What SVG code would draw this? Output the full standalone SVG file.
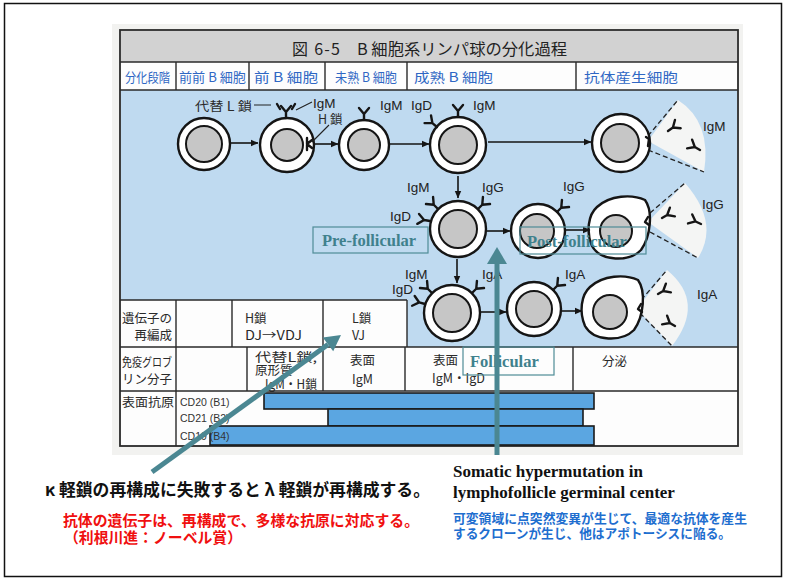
<svg xmlns="http://www.w3.org/2000/svg" width="787" height="580" viewBox="0 0 787 580">
<style>
  .hd{font-family:"Noto Sans CJK JP","Noto Sans",sans-serif;font-size:13px;fill:#2f67c4}
  .ttl{font-family:"Noto Sans CJK JP","Noto Sans",sans-serif;font-size:16px;fill:#222}
  .tb{font-family:"Noto Sans CJK JP","Noto Sans",sans-serif;font-size:12.5px;fill:#2a2a2a}
  .cd{font-family:"Liberation Sans",Arial,sans-serif;font-size:10.5px;fill:#333}
  .ig{font-family:"Liberation Sans",Arial,sans-serif;font-size:13.5px;fill:#222}
  .rule{stroke:#2a2a2a;stroke-width:1.4;fill:none}
  .mem{fill:#fff;stroke:#151515;stroke-width:2.4}
  .nuc{fill:#c6c6c6;stroke:#151515;stroke-width:2}
  .ab{fill:none;stroke:#151515;stroke-width:2.4;stroke-linecap:round;stroke-linejoin:round}
  .lead{fill:none;stroke:#222;stroke-width:1.1}
  .flow{stroke:#151515;stroke-width:1.6;fill:none}
  .fan{fill:#f4f5f4}
  .dash{stroke:#222;stroke-width:1.3;stroke-dasharray:5 3;fill:none}
  .bar{fill:#5ba6e1;stroke:#1a1a1a;stroke-width:1.6}
  .zone{fill:none;stroke:#4f8c97;stroke-width:1.2}
  .zt{font-family:"Liberation Serif","Times New Roman",serif;font-weight:bold;font-size:16.5px;fill:#3f818d}
  .teal{stroke:#4b8792;stroke-width:5;fill:none}
  .note{font-family:"Noto Sans CJK JP","Noto Sans",sans-serif;font-weight:bold}
  .en{font-family:"Liberation Serif","Times New Roman",serif;font-weight:bold;font-size:17px;fill:#111}
</style>
<defs>
  <marker id="ah" markerWidth="8" markerHeight="8" refX="7" refY="4" orient="auto" markerUnits="userSpaceOnUse">
    <path d="M0,0.8 L7.5,4 L0,7.2 Z" fill="#151515"/>
  </marker>
  <!-- antibody: base of the stem at the origin, arms pointing up -->
  <path id="ab" class="ab" d="M0,0 V-6 L-5,-12 M0,-6 L5,-12"/>
  <!-- plasma cell outline: egg shape, narrow end to the upper right -->
  <path id="plasma" class="mem" d="M597,207 C610,195 632,194 645,200 C653,211 651,236 641,250 C629,262 601,262 592,246 C586,232 588,215 597,207 Z"/>
</defs>

<!-- slide border -->
<rect x="4.5" y="3.5" width="777" height="573" fill="#fff" stroke="#111" stroke-width="1.5"/>

<!-- figure frame, title, header row and table -->
<g id="figure-frame">
  <rect x="112" y="24" width="631" height="431" fill="#f2f2f0"/>
  <rect x="120" y="30" width="618" height="416" fill="#fdfdfd" stroke="#2a2a2a" stroke-width="1.8"/>
  <rect x="121" y="31" width="616" height="31" fill="#d2d2d2"/>
  <path d="M121,90 H737 V347 H407 V300 H121 Z" fill="#bfdaf0"/>
  <path class="rule" d="M120,62 H738 M120,90 H738 M176,62 V90 M249,62 V90 M325,62 V90 M407,62 V90 M576,62 V90"/>
  <path class="rule" d="M120,300 H407 M120,347 H738 M120,391 H738 M176,300 V347 M232,300 V347 M323,300 V347 M407,300 V347 M176,347 V391 M247,347 V391 M323,347 V391 M405,347 V391 M573,347 V391 M176,391 V446"/>
  <rect class="bar" x="264" y="393" width="330" height="16"/>
  <rect class="bar" x="328" y="409" width="255" height="17"/>
  <rect class="bar" x="210" y="426" width="384" height="19"/>

  <text class="ttl" x="292" y="55" textLength="48" lengthAdjust="spacing">図 6-5</text>
  <text class="ttl" x="357" y="55" textLength="210" lengthAdjust="spacingAndGlyphs">B 細胞系リンパ球の分化過程</text>

  <text class="hd" x="125" y="82" textLength="45" lengthAdjust="spacingAndGlyphs">分化段階</text>
  <text class="hd" x="179" y="82" textLength="67" lengthAdjust="spacingAndGlyphs">前前 B 細胞</text>
  <text class="hd" x="254" y="82" textLength="64" lengthAdjust="spacingAndGlyphs">前 B 細胞</text>
  <text class="hd" x="335" y="82" textLength="62" lengthAdjust="spacingAndGlyphs">未熟 B 細胞</text>
  <text class="hd" x="414" y="82" textLength="79" lengthAdjust="spacingAndGlyphs">成熟 B 細胞</text>
  <text class="hd" x="584" y="82" textLength="94" lengthAdjust="spacingAndGlyphs">抗体産生細胞</text>

  <text class="tb" x="122" y="323" font-size="12" textLength="50" lengthAdjust="spacingAndGlyphs">遺伝子の</text>
  <text class="tb" x="172" y="340" font-size="12" text-anchor="end">再編成</text>
  <text class="tb" x="245" y="323" font-size="13">H鎖</text>
  <text class="tb" x="245" y="340" font-size="13" textLength="57" lengthAdjust="spacingAndGlyphs">DJ→VDJ</text>
  <text class="tb" x="352" y="323" font-size="13">L鎖</text>
  <text class="tb" x="352" y="340" font-size="13">VJ</text>

  <text class="tb" x="122" y="367" font-size="12" textLength="50" lengthAdjust="spacingAndGlyphs">免疫グロブ</text>
  <text class="tb" x="172" y="384" font-size="12" text-anchor="end">リン分子</text>
  <text class="tb" x="255" y="362" font-size="11.5" textLength="62" lengthAdjust="spacingAndGlyphs">代替L鎖,</text>
  <text class="tb" x="255" y="375" font-size="11.5">原形質</text>
  <text class="tb" x="265" y="389" font-size="11.5" textLength="52" lengthAdjust="spacingAndGlyphs">IgM・H鎖</text>
  <text class="tb" x="350" y="365" font-size="13.5">表面</text>
  <text class="tb" x="352" y="384" font-size="13.5">IgM</text>
  <text class="tb" x="433" y="365" font-size="13.5">表面</text>
  <text class="tb" x="432" y="383" font-size="13.5" textLength="53" lengthAdjust="spacingAndGlyphs">IgM・IgD</text>
  <text class="tb" x="602" y="366" font-size="13.5">分泌</text>

  <text class="tb" x="122" y="407" textLength="52" lengthAdjust="spacingAndGlyphs">表面抗原</text>
  <text class="cd" x="180" y="406">CD20 (B1)</text>
  <text class="cd" x="180" y="422">CD21 (B2)</text>
  <text class="cd" x="180" y="440">CD19 (B4)</text>
</g>

<!-- secretion fans beside the plasma cells -->
<g id="fans">
  <path class="fan" d="M648,141 L678,100 Q712,122 704,172 Z"/>
  <path class="dash" d="M648,136 L678,100 M648,150 L704,172"/>
  <path class="fan" d="M648,222 L685,183 Q720,223 698,258 Z"/>
  <path class="dash" d="M650,213 L685,183 M650,232 L698,258"/>
  <path class="fan" d="M637,309 L667,270 Q706,302 672,346 Z"/>
  <path class="dash" d="M636,306 L667,270 M640,313 L672,346"/>
  <use href="#ab" transform="translate(668,131) rotate(55)"/>
  <use href="#ab" transform="translate(700,150) rotate(-60)"/>
  <use href="#ab" transform="translate(662,218) rotate(60)"/>
  <use href="#ab" transform="translate(701,224) rotate(-65)"/>
  <use href="#ab" transform="translate(658,294) rotate(60)"/>
  <use href="#ab" transform="translate(675,326) rotate(-60)"/>
</g>

<!-- B cell stages -->
<g id="cell-pro-b">
  <circle class="mem" cx="204" cy="144" r="26"/>
  <circle class="nuc" cx="204" cy="144" r="18"/>
</g>
<g id="cell-pre-b">
  <circle class="mem" cx="287" cy="145" r="27"/>
  <circle class="nuc" cx="287" cy="145" r="16"/>
  <use href="#ab" transform="translate(286,118)"/>
  <path class="ab" stroke-width="1.6" d="M277,104 l3,5 M295,104 l-3,5"/>
  <path class="ab" stroke-width="1.7" d="M307,138 V150 M307,144 L312,140 M307,144 L312,148"/>
</g>
<g id="cell-immature-b">
  <circle class="mem" cx="364" cy="145" r="25"/>
  <circle class="nuc" cx="364" cy="145" r="16"/>
  <use href="#ab" transform="translate(364,120)"/>
</g>
<g id="cell-mature-b">
  <circle class="mem" cx="458" cy="145" r="28"/>
  <circle class="nuc" cx="458" cy="145" r="19"/>
  <use href="#ab" transform="translate(437,127) rotate(-50)"/>
  <use href="#ab" transform="translate(458,117)"/>
</g>
<g id="cell-plasma-igm">
  <circle class="mem" cx="621" cy="143" r="29"/>
  <circle class="nuc" cx="620" cy="143" r="19"/>
  <path class="ab" stroke-width="1.6" d="M646,137 l3,2 l-1,7"/>
</g>
<g id="cell-gc-igg">
  <circle class="mem" cx="458" cy="229" r="28"/>
  <circle class="nuc" cx="458" cy="229" r="19"/>
  <use href="#ab" transform="translate(438,209) rotate(-45)"/>
  <use href="#ab" transform="translate(478,209) rotate(45)"/>
  <use href="#ab" transform="translate(430,221) rotate(-80)"/>
</g>
<g id="cell-memory-igg">
  <circle class="mem" cx="538" cy="231" r="27"/>
  <circle class="nuc" cx="537" cy="231" r="17"/>
  <use href="#ab" transform="translate(557,212) rotate(45)"/>
</g>
<g id="cell-plasma-igg">
  <use href="#plasma"/>
  <circle class="nuc" cx="616" cy="231" r="16"/>
  <path class="ab" stroke-width="1.6" d="M648,217 l-3,5 l4,3"/>
</g>
<g id="cell-gc-iga">
  <circle class="mem" cx="452" cy="313" r="28"/>
  <circle class="nuc" cx="452" cy="313" r="19"/>
  <use href="#ab" transform="translate(432,293) rotate(-45)"/>
  <use href="#ab" transform="translate(472,293) rotate(45)"/>
  <use href="#ab" transform="translate(425,304) rotate(-75)"/>
</g>
<g id="cell-memory-iga">
  <circle class="mem" cx="534" cy="309" r="27"/>
  <circle class="nuc" cx="534" cy="309" r="18"/>
  <use href="#ab" transform="translate(553,290) rotate(45)"/>
</g>
<g id="cell-plasma-iga">
  <use href="#plasma" transform="translate(-7,80) scale(1,1.0)"/>
  <circle class="nuc" cx="610" cy="312" r="17"/>
  <path class="ab" stroke-width="1.6" d="M641,304 l-3,5 l4,3"/>
</g>

<!-- differentiation arrows -->
<g id="connectors">
  <path class="flow" marker-end="url(#ah)" d="M231,143 H258"/>
  <path class="flow" marker-end="url(#ah)" d="M314,144 H338"/>
  <path class="flow" marker-end="url(#ah)" d="M389,144 H429"/>
  <path class="flow" marker-end="url(#ah)" d="M488,142 H591"/>
  <path class="flow" marker-end="url(#ah)" d="M458,176 V198"/>
  <path class="flow" marker-end="url(#ah)" d="M487,231 H510"/>
  <path class="flow" marker-end="url(#ah)" d="M566,230 H590"/>
  <path class="flow" marker-end="url(#ah)" d="M457,259 V283"/>
  <path class="flow" marker-end="url(#ah)" d="M481,312 H506"/>
  <path class="flow" marker-end="url(#ah)" d="M562,311 H582"/>
  <path class="lead" d="M254,105 H271 M296,110 L312,102 M329,125 L312,142"/>
</g>

<!-- immunoglobulin labels -->
<g id="labels">
  <text class="tb" x="195" y="111" font-size="13.5" textLength="57" lengthAdjust="spacingAndGlyphs">代替 L 鎖</text>
  <text class="ig" x="313" y="108">IgM</text>
  <text class="tb" x="318" y="124" font-size="12.5">H 鎖</text>
  <text class="ig" x="380" y="110">IgM</text>
  <text class="ig" x="411" y="110">IgD</text>
  <text class="ig" x="473" y="110">IgM</text>
  <text class="ig" x="703" y="131">IgM</text>
  <text class="ig" x="407" y="192">IgM</text>
  <text class="ig" x="482" y="192">IgG</text>
  <text class="ig" x="390" y="221">IgD</text>
  <text class="ig" x="563" y="191">IgG</text>
  <text class="ig" x="702" y="209">IgG</text>
  <text class="ig" x="405" y="279">IgM</text>
  <text class="ig" x="392" y="294">IgD</text>
  <text class="ig" x="482" y="279">IgA</text>
  <text class="ig" x="565" y="279">IgA</text>
  <text class="ig" x="697" y="299">IgA</text>
</g>

<!-- stage zones -->
<g id="zone-pre-follicular">
  <rect class="zone" x="313" y="227" width="115" height="26"/>
  <text class="zt" x="322" y="246">Pre-follicular</text>
</g>
<g id="zone-post-follicular">
  <rect class="zone" x="520" y="227" width="126" height="27"/>
  <text class="zt" x="527" y="247">Post-follicular</text>
</g>
<g id="zone-follicular">
  <rect class="zone" x="463" y="347" width="91" height="28"/>
  <text class="zt" x="470" y="367">Follicular</text>
</g>

<!-- annotation arrows -->
<g id="annotation-arrows">
  <path class="teal" d="M497,455 V262"/>
  <polygon points="497,247 487,264 507,264" fill="#4b8792"/>
  <path class="teal" d="M152,472 L328,344.4"/>
  <polygon points="341,335 333.2,351.3 322.8,337.5" fill="#4b8792"/>
</g>

<!-- notes -->
<g id="note-rearrangement">
  <text class="note" x="45" y="496" font-size="17" fill="#111" textLength="385" lengthAdjust="spacingAndGlyphs">κ 軽鎖の再構成に失敗すると λ 軽鎖が再構成する。</text>
  <text class="note" x="63" y="526" font-size="15" fill="#f01010" textLength="356" lengthAdjust="spacingAndGlyphs">抗体の遺伝子は、再構成で、多様な抗原に対応する。</text>
  <text class="note" x="64" y="543" font-size="15" fill="#f01010" textLength="178" lengthAdjust="spacingAndGlyphs">（利根川進：ノーベル賞）</text>
</g>
<g id="note-hypermutation">
  <text class="en" x="453" y="477">Somatic hypermutation in</text>
  <text class="en" x="453" y="498">lymphofollicle germinal center</text>
  <text class="note" x="453" y="523" font-size="12.8" fill="#1e6ecf" textLength="294" lengthAdjust="spacingAndGlyphs">可変領域に点突然変異が生じて、最適な抗体を産生</text>
  <text class="note" x="453" y="538" font-size="12.8" fill="#1e6ecf" textLength="278" lengthAdjust="spacingAndGlyphs">するクローンが生じ、他はアポトーシスに陥る。</text>
</g>
</svg>
